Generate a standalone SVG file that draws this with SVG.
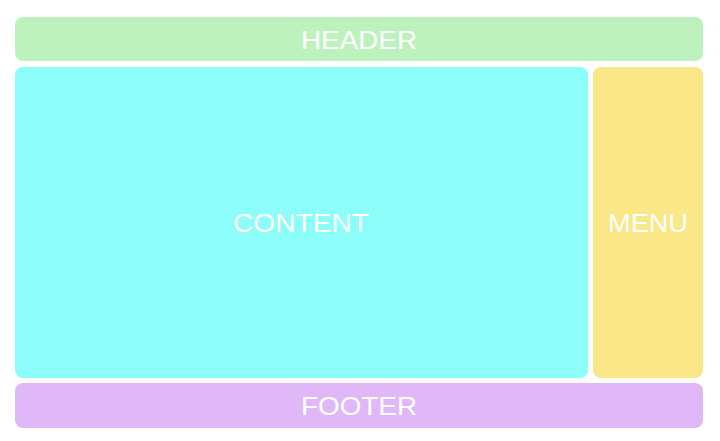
<svg xmlns="http://www.w3.org/2000/svg" width="720" height="441" viewBox="0 0 720 441">
<style>
.box{stroke:none}
.lbl{font-family:"Liberation Sans",Arial,sans-serif;font-size:26px;fill:#ffffff;text-anchor:middle}
</style>
<rect x="0" y="0" width="720" height="441" fill="#ffffff"/>
<g id="header">
<rect class="box" x="15" y="17" width="688" height="44" rx="8" fill="#bdf2be"/>
<text class="lbl" x="359" y="48.5" textLength="116" lengthAdjust="spacingAndGlyphs">HEADER</text>
</g>
<g id="content">
<rect class="box" x="15" y="67" width="573" height="311" rx="8" fill="#8cfdf8"/>
<text class="lbl" x="301" y="231.5" textLength="136" lengthAdjust="spacingAndGlyphs">CONTENT</text>
</g>
<g id="menu">
<rect class="box" x="593" y="67" width="110" height="311" rx="8" fill="#fae787"/>
<text class="lbl" x="648" y="231.5" textLength="80" lengthAdjust="spacingAndGlyphs">MENU</text>
</g>
<g id="footer">
<rect class="box" x="15" y="383" width="688" height="45" rx="8" fill="#e0b8f8"/>
<text class="lbl" x="359" y="415" textLength="116" lengthAdjust="spacingAndGlyphs">FOOTER</text>
</g>
<g id="connectors"></g>
</svg>
